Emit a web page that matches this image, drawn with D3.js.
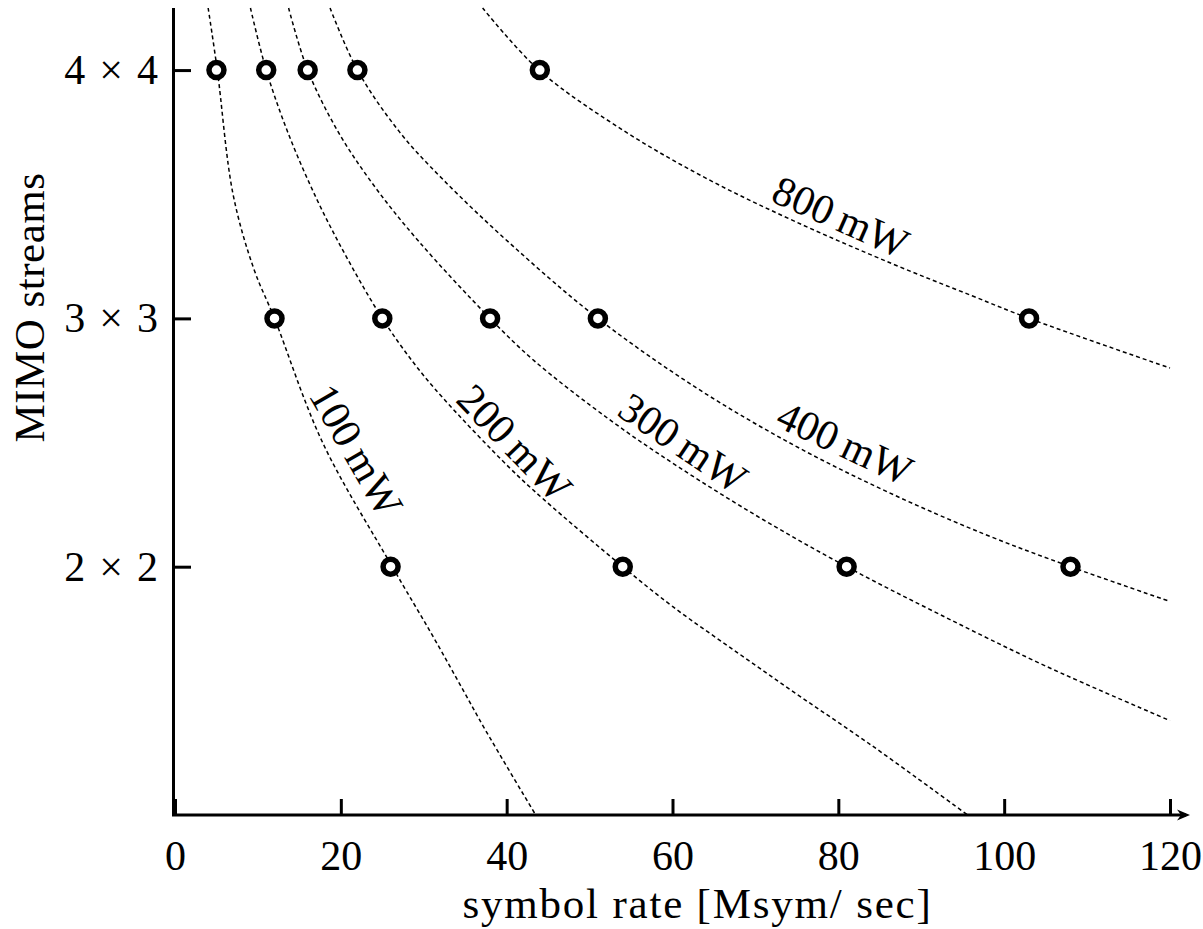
<!DOCTYPE html>
<html>
<head>
<meta charset="utf-8">
<script src="https://cdn.jsdelivr.net/npm/d3@7"></script>
<style>
  body { margin: 0; background: #fff; }
  text { font-family: "Liberation Serif", "DejaVu Serif", serif; fill: #000; }
</style>
</head>
<body>
<div id="chart"></div>
<script>
// operating points, one array per MIMO configuration (symbol rate in Msym/s)
const rates4x4 = [5, 11, 16, 22, 44];
const rates3x3 = [12, 25, 38, 51, 103];
const rates2x2 = [26, 54, 81, 108];
const streamLevels = [4, 3, 2];

// iso-power curves, [symbol rate, streams]
const curve100 = [[4.0, 4.25], [5.1, 4.0], [7.0, 3.5], [9.5, 3.2], [12.0, 3.0], [17.8, 2.5],
  [26.2, 2.0], [31.1, 1.72], [34.8, 1.5], [37.3, 1.35], [43.5, 1.0]];
const curve200 = [[9.1, 4.25], [11.0, 4.0], [13.6, 3.75], [17.1, 3.48], [20.8, 3.24], [25.0, 3.0],
  [28.8, 2.82], [32.3, 2.68], [40.3, 2.40], [44.5, 2.27], [54.0, 2.0], [60.0, 1.84],
  [68.0, 1.65], [75.5, 1.475], [83.6, 1.29], [91.5, 1.10], [95.6, 1.0]];
const curve300 = [[13.7, 4.25], [16.0, 4.0], [19.7, 3.75], [24.1, 3.53], [29.4, 3.31], [38.0, 3.0],
  [43.3, 2.83], [52.5, 2.59], [60.8, 2.40], [70.9, 2.19], [81.0, 2.0], [92.1, 1.81],
  [105.0, 1.60], [120, 1.38]];
const curve400 = [[18.7, 4.25], [22.0, 4.0], [27.1, 3.75], [32.3, 3.56], [40.8, 3.29], [51.0, 3.0],
  [62.9, 2.72], [74.6, 2.49], [86.0, 2.30], [97.7, 2.13], [108, 2.0], [120, 1.86]];
const curve800 = [[37.1, 4.25], [43.9, 4.0], [54.4, 3.75], [64.3, 3.56], [74.8, 3.39], [86.5, 3.22],
  [96.2, 3.09], [103, 3.0], [120, 2.80]];

// curve labels: power, anchor [rate, streams], rotation in degrees
const powers = [100, 200, 300, 400, 800];
const labelRates = [21.9, 41.0, 61.3, 80.8, 80.3];
const labelStreams = [2.47, 2.50, 2.50, 2.50, 3.41];
const labelAngles = [60, 46, 34, 25, 24];

const xTicks = [0, 20, 40, 60, 80, 100, 120];

const width = 1203, height = 929;

const x = d3.scaleLinear().domain([0, 120]).range([175, 1170]);
const y = d3.scaleLinear().domain([1, 4.25]).range([815, 8]);

const svg = d3.select("#chart").append("svg")
  .attr("width", width)
  .attr("height", height)
  .style("background", "#fff");

// dashed iso-power curves
const line = d3.line()
  .x(d => x(d[0]))
  .y(d => y(d[1]))
  .curve(d3.curveCatmullRom.alpha(0.5));

const curves = [curve100, curve200, curve300, curve400, curve800];
svg.append("g")
  .selectAll("path")
  .data(curves)
  .enter()
  .append("path")
  .attr("d", line)
  .attr("fill", "none")
  .attr("stroke", "#000")
  .attr("stroke-width", 1.5)
  .attr("stroke-dasharray", "4,3");

// labels on the curves
svg.append("g")
  .selectAll("text")
  .data(powers)
  .enter()
  .append("text")
  .attr("transform", (d, i) => `translate(${x(labelRates[i])},${y(labelStreams[i])}) rotate(${labelAngles[i]})`)
  .attr("text-anchor", "middle")
  .attr("dy", "0.35em")
  .attr("font-size", "42px")
  .text(d => d + "\u2009mW");

// axes
const xAxis = d3.axisBottom(x)
  .tickValues(xTicks)
  .tickSizeInner(-16)
  .tickSizeOuter(0)
  .tickPadding(25)
  .tickFormat(d3.format("d"));

const gx = svg.append("g")
  .attr("transform", `translate(0,${y(1)})`)
  .call(xAxis);
gx.select(".domain").remove();
gx.selectAll(".tick line").attr("stroke-width", 3);
gx.selectAll(".tick text")
  .attr("font-family", "Liberation Serif")
  .attr("font-size", "42px");

const yAxis = d3.axisLeft(y)
  .tickValues(streamLevels)
  .tickSizeInner(-16)
  .tickSizeOuter(0)
  .tickPadding(17)
  .tickFormat(d => `${d} \u200A×\u200A ${d}`);

const gy = svg.append("g")
  .attr("transform", `translate(${x(0)},0)`)
  .call(yAxis);
gy.select(".domain").remove();
gy.selectAll(".tick line").attr("stroke-width", 3);
gy.selectAll(".tick text")
  .attr("font-family", "Liberation Serif")
  .attr("font-size", "42px");

// axis lines, x has an arrow head
const xEnd = x.range()[1] + 20;
svg.append("path")
  .attr("d", `M${x(0) - 1.5},${y(4.25)} V${y(1)} H${xEnd - 4}`)
  .attr("fill", "none")
  .attr("stroke", "#000")
  .attr("stroke-width", 3);
svg.append("path")
  .attr("d", `M${xEnd - 13},${y(1) - 5.5} L${xEnd},${y(1)} L${xEnd - 13},${y(1) + 5.5} L${xEnd - 9},${y(1)} Z`)
  .attr("fill", "#000");

// operating points
const pointRows = [rates4x4, rates3x3, rates2x2];
pointRows.forEach((rates, r) => {
  svg.append("g")
    .selectAll("circle")
    .data(rates)
    .enter()
    .append("circle")
    .attr("cx", d => x(d))
    .attr("cy", y(streamLevels[r]))
    .attr("r", 7.5)
    .attr("fill", "#fff")
    .attr("stroke", "#000")
    .attr("stroke-width", 5.5);
});

// axis titles
svg.append("text")
  .attr("x", (x(0) + x(120)) / 2 + 25)
  .attr("y", 918)
  .attr("text-anchor", "middle")
  .attr("font-size", "43px")
  .attr("letter-spacing", "1.8px")
  .text("symbol rate [Msym/ sec]");

svg.append("text")
  .attr("transform", `translate(44,${(y(4.25) + y(1)) / 2 - 104}) rotate(-90)`)
  .attr("text-anchor", "middle")
  .attr("font-size", "43px")
  .attr("letter-spacing", "0.5px")
  .text("MIMO streams");
</script>
</body>
</html>
